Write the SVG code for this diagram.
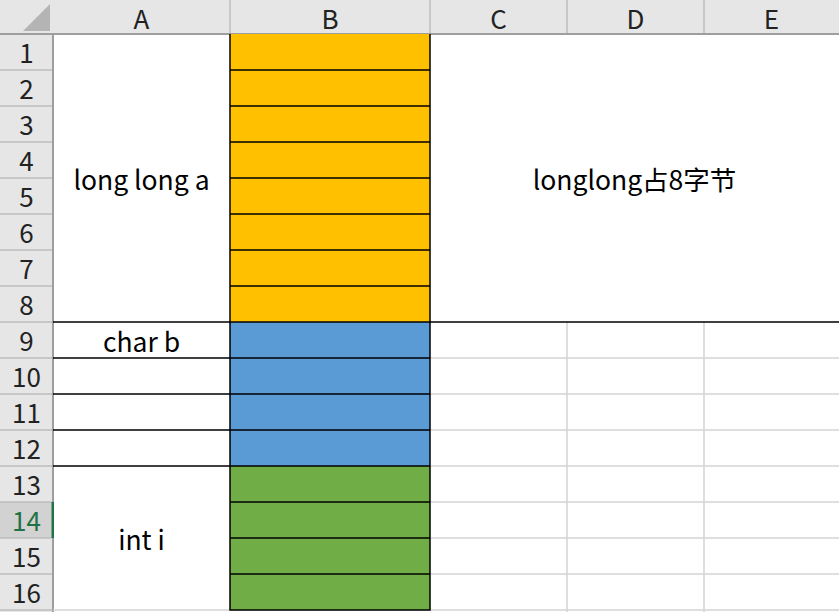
<svg xmlns="http://www.w3.org/2000/svg" width="839" height="612" viewBox="0 0 839 612">
<style>
.hdr{fill:#e6e6e6}
.hl{fill:#222;font-family:"Noto Sans CJK SC","Noto Sans",sans-serif;font-size:26px;text-anchor:middle}
.ct{fill:#000;font-family:"Noto Sans CJK SC","Noto Sans",sans-serif;font-size:26.5px;text-anchor:middle}
.grid{stroke:#d4d4d4;stroke-width:1.5;fill:none}
.hsep{stroke:#bdbdbd;stroke-width:1.5;fill:none}
.hb{stroke:#9e9e9e;stroke-width:2;fill:none}
.blk{stroke:#000;stroke-width:1.5;fill:none}
.or{fill:#ffc000}
.bl{fill:#5b9bd5}
.gr{fill:#70ad47}
</style>
<rect x="0" y="0" width="839" height="612" fill="#fff"/>
<g id="headers">
<rect class="hdr" x="0" y="0" width="839" height="34"/>
<rect class="hdr" x="0" y="34" width="53" height="578"/>
<rect x="0" y="502" width="53" height="36" fill="#d2d2d2"/>
<polygon points="23,31 50,31 50,4" fill="#b4b4b4"/>
<path class="hsep" d="M230,0V34M430,0V34M567,0V34M704,0V34"/>
<path class="hsep" d="M0,70H53M0,106H53M0,142H53M0,178H53M0,214H53M0,250H53M0,286H53M0,322H53M0,358H53M0,394H53M0,430H53M0,466H53M0,502H53M0,538H53M0,574H53M0,610H53"/>
<path class="hb" d="M0,34H839M53,34V612"/>
<rect x="51.5" y="502" width="2.5" height="36" fill="#217346"/>
<text class="hl" x="141.5" y="29">A</text>
<text class="hl" x="330" y="29">B</text>
<text class="hl" x="498.5" y="29">C</text>
<text class="hl" x="635.5" y="29">D</text>
<text class="hl" x="771.5" y="29">E</text>
<text class="hl" x="26.5" y="63">1</text>
<text class="hl" x="26.5" y="99">2</text>
<text class="hl" x="26.5" y="135">3</text>
<text class="hl" x="26.5" y="171">4</text>
<text class="hl" x="26.5" y="207">5</text>
<text class="hl" x="26.5" y="243">6</text>
<text class="hl" x="26.5" y="279">7</text>
<text class="hl" x="26.5" y="315">8</text>
<text class="hl" x="26.5" y="351">9</text>
<text class="hl" x="26.5" y="387">10</text>
<text class="hl" x="26.5" y="423">11</text>
<text class="hl" x="26.5" y="459">12</text>
<text class="hl" x="26.5" y="495">13</text>
<text class="hl" x="26.5" y="531" style="fill:#217346">14</text>
<text class="hl" x="26.5" y="567">15</text>
<text class="hl" x="26.5" y="603">16</text>
</g>
<g id="gridlines">
<path class="grid" d="M430,358H839M430,394H839M430,430H839M430,466H839M430,502H839M430,538H839M430,574H839M53,610H839M567,322V612M704,322V612"/>
</g>
<g id="cell-a1-a8"><text class="ct" x="141.5" y="190">long long a</text></g>
<g id="cell-c1-e8"><text class="ct" x="634.5" y="190">longlong占8字节</text></g>
<g id="cell-a9"><text class="ct" x="141.5" y="352">char b</text></g>
<g id="cell-a13-a16"><text class="ct" x="141.5" y="550">int i</text></g>
<g id="col-b">
<rect class="or" x="230" y="34" width="200" height="288"/>
<rect class="bl" x="230" y="322" width="200" height="144"/>
<rect class="gr" x="230" y="466" width="200" height="144"/>
</g>
<g id="borders">
<path class="blk" d="M230,70H430M230,106H430M230,142H430M230,178H430M230,214H430M230,250H430M230,286H430M53,322H839M53,358H430M53,394H430M53,430H430M53,466H430M230,502H430M230,538H430M230,574H430M230,610H430M230,34V610.75M430,34V610.75"/>
</g>
</svg>
